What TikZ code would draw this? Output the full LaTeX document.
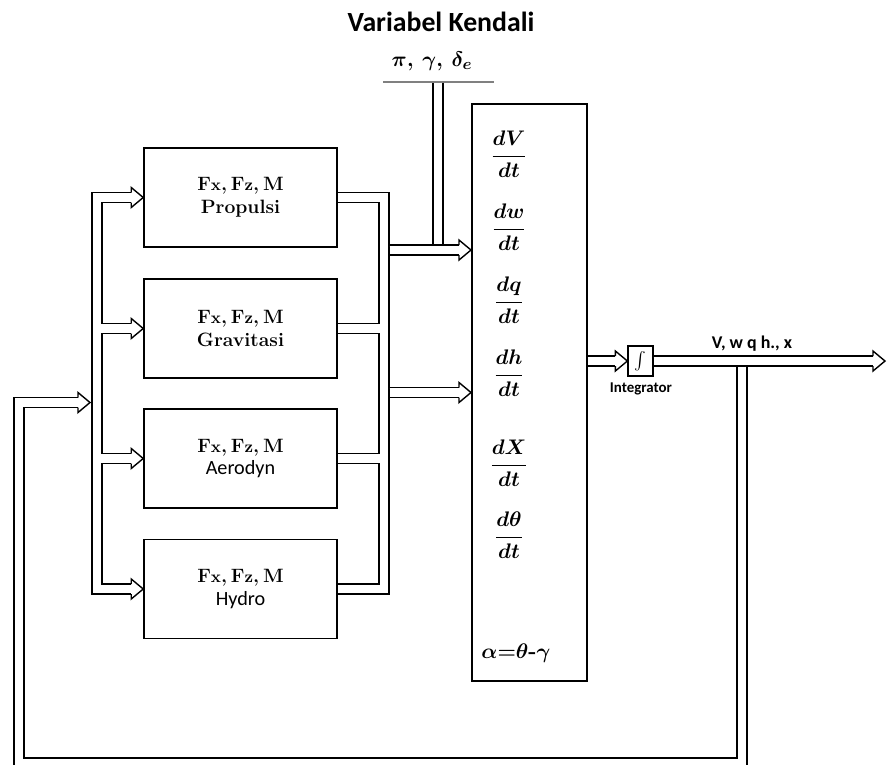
\documentclass[tikz,border=0pt]{standalone}
\usepackage{amsmath}
\usepackage{bm}
\usepackage{fontspec}
\newfontfamily\calib{Carlito}
\usepackage{tikz}
\usetikzlibrary{calc}

\newcommand{\sx}[1]{{\fontsize{9.5}{9}\selectfont #1}}
\newcommand{\fxz}{F\sx{x},\kern0.2em F\sx{z},\kern0.2em M}

\tikzset{
	hhead/.pic={\filldraw[fill=white,line width=0.8pt,line join=miter]
		(-12,-5) -- (-12,-10) -- (0,0) -- (-12,10) -- (-12,5);}
}

\begin{document}
\begin{tikzpicture}[x=0.02cm,y=-0.02cm,line width=0.9pt,
	forcebox/.style={draw,minimum width=3.86cm,minimum height=1.98cm,align=center,
		font=\bfseries\fontsize{11}{13}\selectfont},
	frac/.style={font=\boldmath\fontsize{12.5}{14}\selectfont},
	bus/.style={double,double distance=4.9pt,line width=0.8pt,line join=miter}]
			
			\useasboundingbox (0,0) rectangle (887,765);
			
			\node[font=\calib\bfseries\fontsize{15.8}{18}\selectfont] (title) at (441,22) {Variabel Kendali};
			\node[font=\boldmath\bfseries\fontsize{12.8}{14}\selectfont] (ctrl) at (432,61)
			{$\pi$, $\gamma$, $\delta_e$};
			\coordinate (barL) at (383,82);
			\coordinate (barR) at (494,82);
			\draw[gray,line width=0.6pt] (barL) -- (barR);
			
			\node[forcebox] (prop) at (240.5,197.5) {\fxz\\ Propulsi};
			\node[forcebox] (grav) at (240.5,328.5) {\fxz\\ Gravitasi};
			\node[forcebox] (aero) at (240.5,458.5)
			{\fxz\\ {\calib\mdseries\fontsize{11.5}{13}\selectfont Aerodyn}};
			\node[forcebox] (hydro) at (240.5,589)
			{\fxz\\ {\calib\mdseries\fontsize{11.5}{13}\selectfont Hydro}};
			
			\node[draw,minimum width=2.3cm,minimum height=11.54cm] (eom) at (529.5,392.5) {};
			\node[frac] (dVdt) at (509,154) {$\dfrac{dV}{dt}$};
			\node[frac] (dwdt) at (509,227) {$\dfrac{dw}{dt}$};
			\node[frac] (dqdt) at (509,300) {$\dfrac{dq}{dt}$};
			\node[frac] (dhdt) at (509,373) {$\dfrac{dh}{dt}$};
			\node[frac] (dXdt) at (509,463) {$\dfrac{dX}{dt}$};
			\node[frac] (dthdt) at (509,535) {$\dfrac{d\theta}{dt}$};
			\node[frac] (alpha) at (516,653) {$\alpha{=}\theta$\textbf{-}$\gamma$};
			
			\node[draw,minimum width=0.5cm,minimum height=0.6cm,inner sep=0pt,line width=0.7pt]
			(intg) at (640.5,361) {$\int$};
			\node[font=\calib\bfseries\fontsize{8.5}{10}\selectfont] (intlab) at (641,389) {Integrator};
			\node[font=\calib\bfseries\fontsize{10.2}{12}\selectfont] (outlab) at (752,344) {V, w q h., x};
			
			\coordinate (lbus) at (97,0);
			\coordinate (rbus) at (384,0);
			\coordinate (in1) at (471,250);
			\coordinate (in2) at (471,392.5);
			\coordinate (ctrltop) at (438,82.6);
			\coordinate (out) at (885,361);
			\coordinate (fb) at (742,366.7);
			\coordinate (fbc) at (19,763);
			\coordinate (fbin) at (90,402.5);
			
			% bus into the force blocks
			\draw[bus] ($(prop.west)+(-12,0)$) -| (lbus |- hydro.west) -- ($(hydro.west)+(-12,0)$)
			(lbus |- grav.west) -- ($(grav.west)+(-12,0)$)
			(lbus |- aero.west) -- ($(aero.west)+(-12,0)$);
			\pic at (prop.west) {hhead};
			\pic at (grav.west) {hhead};
			\pic at (aero.west) {hhead};
			\pic at (hydro.west) {hhead};
			
			% bus out of the force blocks
			\draw[bus] (prop.east) -| (rbus |- hydro.east) -- (hydro.east)
			(rbus |- grav.east) -- (grav.east)
			(rbus |- aero.east) -- (aero.east);
			\draw[bus] ($(rbus |- in1)+(5.7,0)$) -- ($(in1)+(-12,0)$);
			\pic at (in1) {hhead};
			\draw[bus] ($(rbus |- in2)+(5.7,0)$) -- ($(in2)+(-12,0)$);
			\pic at (in2) {hhead};
			\draw[bus] (ctrltop) -- ($(ctrltop |- in1)+(0,-5.7)$);
			
			% output and feedback
			\draw[bus] (eom.east |- intg.west) -- ($(intg.west)+(-12,0)$);
			\pic at (intg.west) {hhead};
			\draw[bus] (intg.east) -- ($(out)+(-12,0)$);
			\pic at (out) {hhead};
			\draw[bus] (fb) |- (fbc) |- ($(fbin)+(-12,0)$);
			\pic at (fbin) {hhead};
			
		\end{tikzpicture}
\end{document}
